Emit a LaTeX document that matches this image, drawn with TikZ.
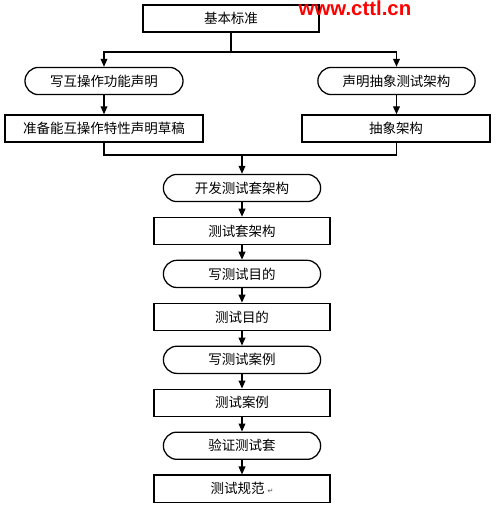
\documentclass[tikz,border=0pt]{standalone}
\usepackage{fontspec}
\setmainfont{Noto Sans CJK SC}
\newfontfamily\wmfont{Liberation Sans}
\newfontfamily\symfont{DejaVu Sans}
\usepackage{xcolor}
\usepackage{tikz}
\usetikzlibrary{arrows.meta, positioning}

\begin{document}
\begin{tikzpicture}[
    x=0.025cm, y=-0.025cm,
    node distance=0.362cm,
    bnode/.style={rectangle, draw=black, fill=white, line width=0.9pt, minimum height=0.68cm, minimum width=4.4cm, align=center, inner sep=2pt, font=\fontsize{9.6}{11}\selectfont},
    rnode/.style={bnode, rounded corners=0.34cm, minimum width=3.93cm},
    arr/.style={-{Triangle[length=2mm, width=1.7mm]}, line width=0.9pt, color=black}
]
\useasboundingbox (0,0) rectangle (500,509);

% top part
\node[bnode] (basic) at (231,18.5) {基本标准};
\node[rnode, minimum width=3.95cm] (wfunc) at (104,81) {写互操作功能声明};
\node[rnode, minimum width=3.93cm] (wabs) at (396.5,81) {声明抽象测试架构};
\node[bnode, minimum width=4.95cm] (draft) at (104,128.5) {准备能互操作特性声明草稿};
\node[bnode, minimum width=4.7cm] (absarch) at (396,128.5) {抽象架构};

% watermark
\node[anchor=base, inner sep=0pt, text=red, font=\wmfont\bfseries\fontsize{14.5}{14.5}\selectfont] (wm) at (355,15) {www.cttl.cn};

% main column
\node[rnode] (devarch) at (242,188) {开发测试套架构};
\node[bnode, below=of devarch] (tsarch) {测试套架构};
\node[rnode, below=of tsarch] (wpurp) {写测试目的};
\node[bnode, below=of wpurp] (purp) {测试目的};
\node[rnode, below=of purp] (wcase) {写测试案例};
\node[bnode, below=of wcase] (tcase) {测试案例};
\node[rnode, below=of tcase] (verify) {验证测试套};
\node[bnode, below=of verify] (spec) {测试规范\ {\symfont\fontsize{5}{6}\selectfont\color{black!70}↵}};

\coordinate (split) at (231,52);
\coordinate (merge) at (242,155);

\draw[line width=0.9pt] (basic) -- (split);
\draw[arr] (split) -| (wfunc);
\draw[arr] (split) -| (wabs);
\draw[arr] (wfunc) -- (draft);
\draw[arr] (wabs) -- (wabs |- absarch.north);
\draw[line width=0.9pt] (draft) |- (merge);
\draw[line width=0.9pt] (wabs |- absarch.south) |- (merge);
\draw[arr] (merge) -- (devarch);
\draw[arr] (devarch) -- (tsarch);
\draw[arr] (tsarch) -- (wpurp);
\draw[arr] (wpurp) -- (purp);
\draw[arr] (purp) -- (wcase);
\draw[arr] (wcase) -- (tcase);
\draw[arr] (tcase) -- (verify);
\draw[arr] (verify) -- (spec);

\end{tikzpicture}
\end{document}
